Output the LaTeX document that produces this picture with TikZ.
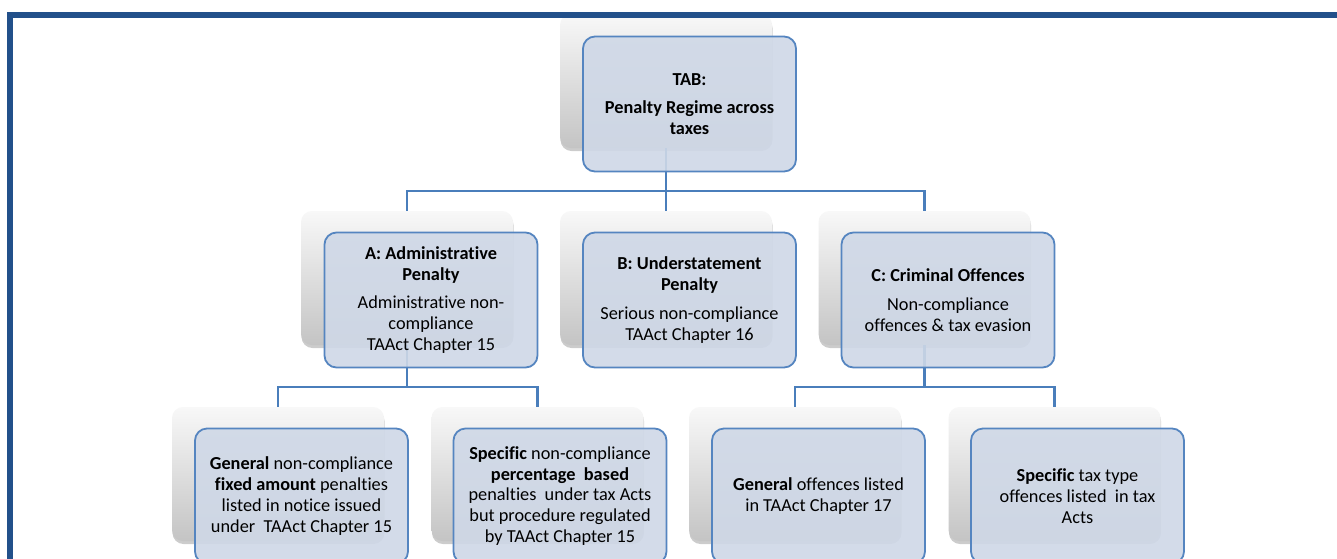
\documentclass[tikz,border=0pt]{standalone}
\usepackage{fontspec}
\setmainfont{Carlito}[RawFeature={-liga,-dlig,-clig}]
\usetikzlibrary{shadows,calc}
\definecolor{frameblue}{HTML}{22508A}
\definecolor{connblue}{HTML}{4A7EBB}
\definecolor{boxline}{HTML}{5585C0}
\definecolor{boxfill}{HTML}{CFD8E7}
\definecolor{shtop}{HTML}{F8F8F8}
\definecolor{shmid}{HTML}{EEEEEE}
\definecolor{shbot}{HTML}{C4C4C4}
\tikzset{
  shbox/.style={rectangle, rounded corners=11pt, minimum width=212pt, minimum height=134pt,
    inner sep=0pt, draw=none, top color=shtop, middle color=shmid, bottom color=shbot,
    drop shadow={shadow xshift=0.5pt, shadow yshift=-3pt, opacity=0.2, fill=black}},
  frbox/.style={rectangle, rounded corners=12pt, minimum width=213pt, minimum height=135pt,
    inner sep=0pt, draw=boxline, line width=1.8pt, fill=boxfill, fill opacity=0.9, text opacity=1,
    align=center, font=\fontsize{18.3}{20.8}\selectfont},
  conn/.style={draw=connblue, line width=2.2pt},
}
\begin{document}
\begin{tikzpicture}[x=1pt,y=-1pt]
\useasboundingbox (0,0) rectangle (1337,558);
\fill[white] (0,0) rectangle (1337,558);
% shadow (back) boxes
\node[shbox] (sT) at (666,81) {};
\node[shbox] (sA) at (407,278) {};
\node[shbox] (sB) at (666,278) {};
\node[shbox] (sC) at (924.5,278) {};
\node[shbox] (s1) at (278,474) {};
\node[shbox] (s2) at (537.5,474) {};
\node[shbox] (s3) at (795,474) {};
\node[shbox] (s4) at (1054.5,474) {};
% connectors
\coordinate (busT) at (0,191);
\coordinate (busL) at (0,387);
\draw[conn] (sT.south) -- (sT.south |- busT) -| (sA.north);
\draw[conn] (sT.south |- busT) -- (sB.north);
\draw[conn] (sT.south |- busT) -| (sC.north);
\draw[conn] (sA.south) -- (sA.south |- busL) -| (s1.north);
\draw[conn] (sA.south |- busL) -| (s2.north);
\draw[conn] (sC.south) -- (sC.south |- busL) -| (s3.north);
\draw[conn] (sC.south |- busL) -| (s4.north);
% front boxes
\node[frbox] (T) at (689.5,104) {\textbf{TAB:}\\[7.5pt]\textbf{Penalty Regime across}\\\textbf{taxes}};
\node[frbox] (A) at (431,300) {\textbf{A: Administrative}\\\textbf{Penalty}\\[8pt]Administrative non-\\compliance\\TAAct Chapter 15};
\node[frbox] (B) at (689.5,300) {\textbf{B: Understatement}\\\textbf{Penalty}\\[8pt]Serious non-compliance\\TAAct Chapter 16};
\node[frbox] (C) at (948,300) {\textbf{C: Criminal Offences}\\[8pt]Non-compliance\\offences \& tax evasion};
\node[frbox] (L1) at (301.5,496) {\textbf{General} non-compliance\\\textbf{fixed amount} penalties\\listed in notice issued\\under\ \ TAAct Chapter 15};
\node[frbox] (L2) at (560,496) {\textbf{Specific} non-compliance\\\textbf{percentage\ \ based}\\penalties\ \ under tax Acts\\but procedure regulated\\by TAAct Chapter 15};
\node[frbox] (L3) at (818.5,496) {\textbf{General} offences listed\\in TAAct Chapter 17};
\node[frbox] (L4) at (1077.5,496) {\textbf{Specific} tax type\\offences listed\ \ in tax\\Acts};
% frame
\draw[frameblue, line width=6pt, line join=miter] (10.3,600) -- (10.3,14.5) -- (1360,14.5);
\end{tikzpicture}
\end{document}
